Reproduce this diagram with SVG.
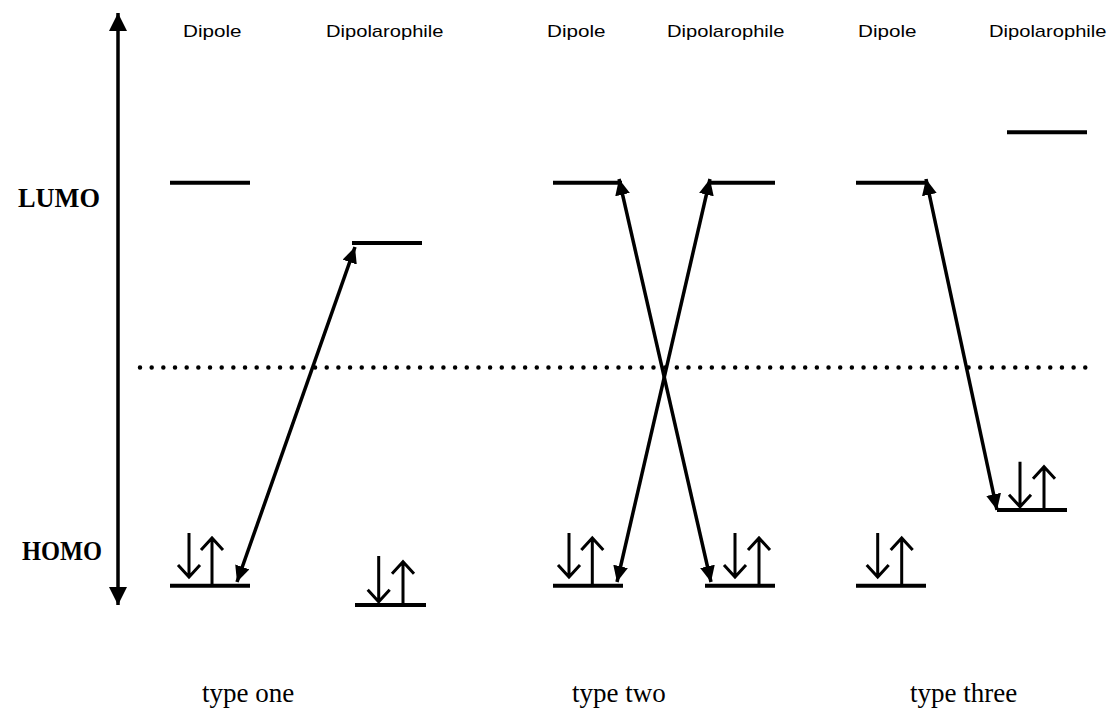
<svg xmlns="http://www.w3.org/2000/svg" width="1115" height="709" viewBox="0 0 1115 709">
  <style>
    .level { stroke: #000; stroke-width: 4; fill: none; }
    .spin { stroke: #000; stroke-width: 3; fill: none; }
    .conn { stroke: #000; stroke-width: 3.5; fill: none; }
    .axis { stroke: #000; stroke-width: 3.5; fill: none; }
    .dots { stroke: #000; stroke-width: 4.5; stroke-linecap: round; stroke-dasharray: 0 11.67; fill: none; }
    .head { font-family: "Liberation Sans", Arial, sans-serif; font-size: 17px; fill: #000; }
    .orb { font-family: "Liberation Serif", "Times New Roman", serif; font-size: 27px; font-weight: bold; fill: #000; }
    .cap { font-family: "Liberation Serif", "Times New Roman", serif; font-size: 27px; fill: #000; }
  </style>
  <defs>
    <marker id="tip" markerUnits="userSpaceOnUse" markerWidth="17" markerHeight="15" refX="16" refY="7.5" orient="auto-start-reverse">
      <path d="M0,0 L16,7.5 L0,15 Z" fill="#000"/>
    </marker>
    <marker id="axtip" markerUnits="userSpaceOnUse" markerWidth="19" markerHeight="18" refX="18" refY="9" orient="auto-start-reverse">
      <path d="M0,0 L18,9 L0,18 Z" fill="#000"/>
    </marker>
  </defs>

  <!-- energy axis -->
  <g id="energy-axis">
    <line class="axis" x1="118" y1="13" x2="118" y2="605" marker-start="url(#axtip)" marker-end="url(#axtip)"/>
    <text class="orb" x="18" y="207" textLength="82" lengthAdjust="spacingAndGlyphs">LUMO</text>
    <text class="orb" x="22" y="560" textLength="80" lengthAdjust="spacingAndGlyphs">HOMO</text>
  </g>

  <!-- column headings -->
  <g id="headings">
    <text class="head" x="183" y="37" textLength="58.5" lengthAdjust="spacingAndGlyphs">Dipole</text>
    <text class="head" x="326" y="37" textLength="117.5" lengthAdjust="spacingAndGlyphs">Dipolarophile</text>
    <text class="head" x="547" y="37" textLength="58.5" lengthAdjust="spacingAndGlyphs">Dipole</text>
    <text class="head" x="667" y="37" textLength="117.5" lengthAdjust="spacingAndGlyphs">Dipolarophile</text>
    <text class="head" x="858" y="37" textLength="58.5" lengthAdjust="spacingAndGlyphs">Dipole</text>
    <text class="head" x="989" y="37" textLength="117.5" lengthAdjust="spacingAndGlyphs">Dipolarophile</text>
  </g>

  <!-- reference energy -->
  <line id="midline" class="dots" x1="140" y1="367.5" x2="1096" y2="367.5"/>

  <!-- type one -->
  <g id="t1-dipole-lumo"><line class="level" x1="170" y1="182.7" x2="250" y2="182.7"/></g>
  <g id="t1-dipolarophile-lumo"><line class="level" x1="352" y1="243" x2="422" y2="243"/></g>
  <g id="t1-dipole-homo">
    <line class="level" x1="170" y1="585.7" x2="250" y2="585.7"/>
    <path class="spin" d="M189,533 V577 M178,565 L189,577 L200,565"/>
    <path class="spin" d="M212,585.7 V538 M201,550 L212,538 L223,550"/>
  </g>
  <g id="t1-dipolarophile-homo">
    <line class="level" x1="355" y1="605" x2="426" y2="605"/>
    <path class="spin" d="M378.7,556 V601.7 M367.7,589.7 L378.7,601.7 L389.7,589.7"/>
    <path class="spin" d="M403,605 V561.7 M392,573.7 L403,561.7 L414,573.7"/>
  </g>
  <text id="t1-caption" class="cap" x="202" y="702">type one</text>

  <!-- type two -->
  <g id="t2-dipole-lumo"><line class="level" x1="553" y1="182.7" x2="622" y2="182.7"/></g>
  <g id="t2-dipolarophile-lumo"><line class="level" x1="708" y1="182.7" x2="775" y2="182.7"/></g>
  <g id="t2-dipole-homo">
    <line class="level" x1="553" y1="585.7" x2="623" y2="585.7"/>
    <path class="spin" d="M569,533 V577 M558,565 L569,577 L580,565"/>
    <path class="spin" d="M592.3,585.7 V538 M581.3,550 L592.3,538 L603.3,550"/>
  </g>
  <g id="t2-dipolarophile-homo">
    <line class="level" x1="705" y1="585.7" x2="775" y2="585.7"/>
    <path class="spin" d="M735,533 V577 M724,565 L735,577 L746,565"/>
    <path class="spin" d="M759,585.7 V538 M748,550 L759,538 L770,550"/>
  </g>
  <text id="t2-caption" class="cap" x="572" y="702">type two</text>

  <!-- type three -->
  <g id="t3-dipole-lumo"><line class="level" x1="856" y1="182.7" x2="928" y2="182.7"/></g>
  <g id="t3-dipolarophile-lumo"><line class="level" x1="1007" y1="132.3" x2="1087" y2="132.3"/></g>
  <g id="t3-dipole-homo">
    <line class="level" x1="856" y1="585.7" x2="926" y2="585.7"/>
    <path class="spin" d="M877.7,533 V577 M866.7,565 L877.7,577 L888.7,565"/>
    <path class="spin" d="M901.7,585.7 V538 M890.7,550 L901.7,538 L912.7,550"/>
  </g>
  <g id="t3-dipolarophile-homo">
    <line class="level" x1="997" y1="510" x2="1067" y2="510"/>
    <path class="spin" d="M1020,461.7 V506.7 M1009,494.7 L1020,506.7 L1031,494.7"/>
    <path class="spin" d="M1044,510 V466.7 M1033,478.7 L1044,466.7 L1055,478.7"/>
  </g>
  <text id="t3-caption" class="cap" x="910" y="702">type three</text>

  <!-- HOMO-LUMO interactions -->
  <g id="connectors">
    <line class="conn" x1="237" y1="582" x2="355" y2="247" marker-start="url(#tip)" marker-end="url(#tip)"/>
    <line class="conn" x1="619" y1="179" x2="711" y2="582" marker-start="url(#tip)" marker-end="url(#tip)"/>
    <line class="conn" x1="710" y1="179" x2="617" y2="582" marker-start="url(#tip)" marker-end="url(#tip)"/>
    <line class="conn" x1="926" y1="179" x2="997" y2="510" marker-start="url(#tip)" marker-end="url(#tip)"/>
  </g>
</svg>
